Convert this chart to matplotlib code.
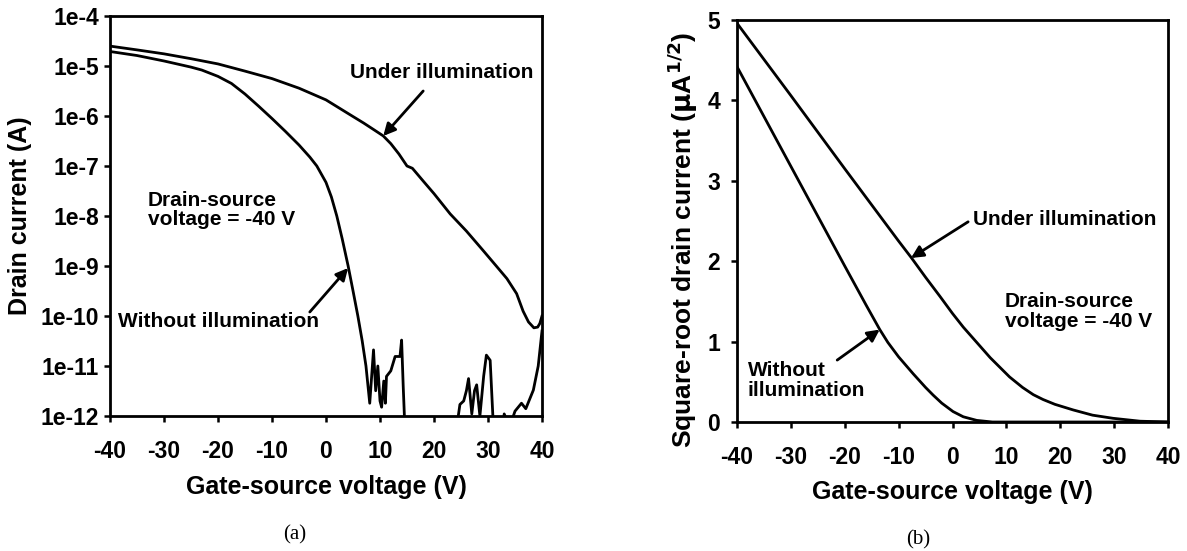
import matplotlib
matplotlib.use("Agg")

import matplotlib.pyplot as plt

plt.rcParams["font.family"] = ["Liberation Sans", "DejaVu Sans"]
plt.rcParams["font.weight"] = "bold"

# (a) drain current vs gate voltage, log scale (A)
v_under_a = [-40, -35, -30, -25, -20, -15, -10, -5, 0, 4.4, 7, 9, 10.6, 12, 13.5, 15, 16,
             18, 20, 23, 26, 29, 31.6, 33.5, 35.3, 36.5, 37.5, 38.5, 39.2, 39.6, 40]
i_under_a = [2.5e-5, 2.1e-5, 1.75e-5, 1.4e-5, 1.1e-5, 7.9e-6, 5.6e-6, 3.6e-6, 2.1e-6, 1.07e-6,
             7.2e-7, 5.2e-7, 4.0e-7, 2.8e-7, 1.74e-7, 1.0e-7, 9.0e-8,
             5.0e-8, 2.8e-8, 1.1e-8, 5.0e-9, 2.1e-9, 9.8e-10, 5.6e-10, 2.8e-10, 1.25e-10,
             7.6e-11, 5.8e-11, 6.0e-11, 7.1e-11, 1.0e-10]

v_dark_a = [-40, -35, -30, -25, -23, -20, -17.5, -15, -12.5, -10, -7.5, -5, -3, -1.7, 0, 1,
            2, 3, 4.1, 5, 5.9, 6.7, 7.4, 8.1,
            8.8, 9.2, 9.6, 10.0, 10.3, 10.7, 11.0, 11.2, 12.0, 12.8, 13.7, 14.0, 14.3, 14.6,
            15, 24, 24.2, 24.8, 25.5, 26.0, 26.4, 27.0, 27.5, 27.9, 28.5, 29.2, 29.7, 30.4,
            31.0, 32.0, 33.0, 34.0, 35.0, 36.2, 37.0, 38.4, 39.3, 39.9, 40]
i_dark_a = [1.95e-5, 1.62e-5, 1.26e-5, 9.5e-6, 8.3e-6, 6.2e-6, 4.47e-6, 2.75e-6, 1.58e-6,
            8.9e-7, 4.9e-7, 2.63e-7, 1.51e-7, 1.0e-7, 4.7e-8, 2.4e-8,
            1.0e-8, 3.5e-9, 1.0e-9, 3.2e-10, 1.0e-10, 3.2e-11, 1.0e-11, 1.8e-12,
            2.1e-11, 3.2e-12, 1.0e-11, 2.0e-12, 1.5e-12, 5.0e-12, 1.8e-12, 6.2e-12, 8.0e-12,
            1.55e-11, 1.55e-11, 3.3e-11, 3.9e-12, 6.0e-13,
            1e-13, 1e-13, 6.0e-13, 1.7e-12, 2.0e-12, 3.2e-12, 5.6e-12, 1.1e-12, 3.2e-12,
            4.2e-12, 1.0e-12, 6.3e-12, 1.65e-11, 1.3e-11,
            6.0e-13, 1e-13, 1.1e-12, 6.0e-13, 1.25e-12, 1.8e-12, 1.4e-12, 3.3e-12, 1.0e-11,
            4.0e-11, 5.0e-11]

log_ticks = [1e-12, 1e-11, 1e-10, 1e-9, 1e-8, 1e-7, 1e-6, 1e-5, 1e-4]
log_labels = ["1e-12", "1e-11", "1e-10", "1e-9", "1e-8", "1e-7", "1e-6", "1e-5", "1e-4"]

# (b) square-root drain current (uA^1/2)
v_under_b = [-40, -30, -20, -10, -7.6, -5, -2.3, 0, 2, 4.5, 7, 10.6, 13, 15, 16.8, 19,
             22.4, 26, 29.8, 34.8, 40]
s_under_b = [4.96, 4.06, 3.15, 2.25, 2.04, 1.80, 1.56, 1.35, 1.18, 0.99, 0.80, 0.56, 0.43,
             0.34, 0.28, 0.22, 0.15, 0.085, 0.046, 0.01, 0.0]

v_dark_b = [-40, -30, -20, -16, -13.5, -12, -10, -7.3, -5, -3.6, -2, 0.1, 2, 4.5, 7.4, 40]
s_dark_b = [4.42, 3.18, 1.94, 1.45, 1.15, 0.99, 0.81, 0.60, 0.43, 0.335, 0.235, 0.13,
            0.065, 0.02, 0.0, 0.0]

x_ticks = [-40, -30, -20, -10, 0, 10, 20, 30, 40]

W, H = 1187, 551
fig = plt.figure(figsize=(W / 100, H / 100), dpi=100)


def px_axes(x0, y0, x1, y1):
    return fig.add_axes([x0 / W, 1 - y1 / H, (x1 - x0) / W, (y1 - y0) / H])


def style(ax):
    for s in ax.spines.values():
        s.set_linewidth(2.0)
    ax.tick_params(direction="out", length=4, width=1.8, labelsize=16.5, pad=4)
    ax.tick_params(axis="x", pad=13)
    ax.minorticks_off()
    ax.set_xlim(-40, 40)
    ax.set_xticks(x_ticks)
    ax.set_xticklabels([str(v) for v in x_ticks])


arrow = dict(arrowstyle="-|>", color="black", lw=2, mutation_scale=18, shrinkA=0, shrinkB=0)
txt = dict(fontsize=15, fontweight="bold")

# ---- panel (a)
ax1 = px_axes(110, 16, 542, 416)
ax1.plot(v_under_a, i_under_a, color="black", lw=2)
ax1.plot(v_dark_a, i_dark_a, color="black", lw=2)
ax1.set_yscale("log")
ax1.set_ylim(1e-12, 1e-4)
style(ax1)
ax1.set_yticks(log_ticks)
ax1.set_yticklabels(log_labels)
ax1.minorticks_off()
ax1.set_xlabel("Gate-source voltage (V)", fontsize=18, fontweight="bold", labelpad=9)
ax1.set_ylabel("Drain current (A)", fontsize=18, fontweight="bold", labelpad=6)

ax1.text(4.4, 10 ** -5.12, "Under illumination", va="center", ha="left", **txt)
ax1.annotate("", xy=(10.6, 10 ** -6.4), xytext=(18, 10 ** -5.5), arrowprops=arrow)
ax1.text(-33, 10 ** -7.88, "Drain-source\nvoltage = -40 V", va="center", ha="left",
         linespacing=1.05, **txt)
ax1.text(-38.5, 10 ** -10.12, "Without illumination", va="center", ha="left", **txt)
ax1.annotate("", xy=(4.1, 10 ** -9.04), xytext=(-3, 10 ** -9.92), arrowprops=arrow)

# ---- panel (b)
ax2 = px_axes(737, 20, 1168, 422)
ax2.plot(v_under_b, s_under_b, color="black", lw=2)
ax2.plot(v_dark_b, s_dark_b, color="black", lw=2)
ax2.set_ylim(0, 5)
style(ax2)
ax2.set_yticks([0, 1, 2, 3, 4, 5])
ax2.tick_params(axis="y", pad=8)
ax2.set_xlabel("Gate-source voltage (V)", fontsize=18, fontweight="bold", labelpad=8)
ax2.set_ylabel(r"Square-root drain current ($\mathbf{\mu}$A$^{\mathbf{1/2}}$)",
               fontsize=19, fontweight="bold")
ax2.yaxis.set_label_coords(-0.086, 0.453)

ax2.text(3.8, 2.52, "Under illumination", va="center", ha="left", **txt)
ax2.annotate("", xy=(-7.7, 2.04), xytext=(2.9, 2.49), arrowprops=arrow)
ax2.text(9.7, 1.37, "Drain-source\nvoltage = -40 V", va="center", ha="left",
         linespacing=1.05, **txt)
ax2.text(-38, 0.52, "Without\nillumination", va="center", ha="left", linespacing=1.05, **txt)
ax2.annotate("", xy=(-13.5, 1.15), xytext=(-21.4, 0.77), arrowprops=arrow)

fig.text(295 / W, 1 - 535 / H, "(a)", ha="center", va="center", fontsize=15,
         family="Liberation Serif", fontweight="normal")
fig.text(918 / W, 1 - 540 / H, "(b)", ha="center", va="center", fontsize=15,
         family="Liberation Serif", fontweight="normal")

fig.savefig("out.png", dpi=100)
